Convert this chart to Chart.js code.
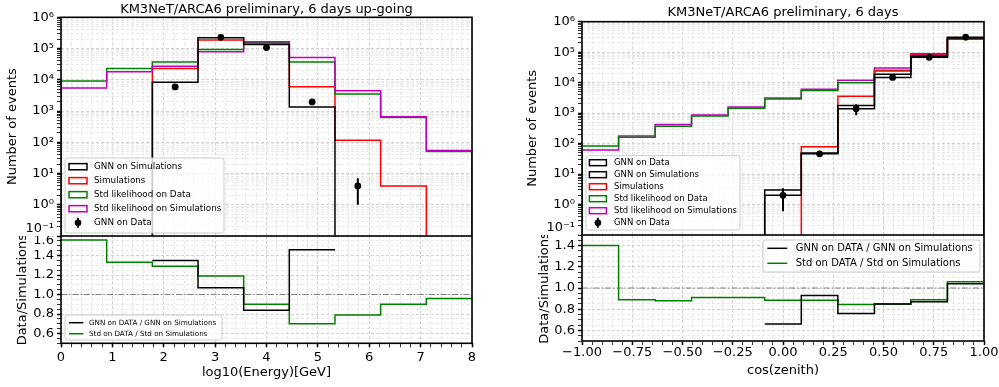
<!DOCTYPE html>
<html>
<head>
<meta charset="utf-8">
<title>KM3NeT/ARCA6 preliminary</title>
<script src="https://cdn.jsdelivr.net/npm/chart.js@4.4.0/dist/chart.umd.min.js"></script>
<style>
    body { margin: 0; background: #fff; }
    #wrap { position: relative; width: 999px; height: 387px; overflow: hidden; background: #fff; }
    canvas { position: absolute; }
</style>
</head>
<body>
<div id="wrap">
    <canvas id="energyTop" width="490" height="236" style="left:0;top:0;width:490px;height:236px"></canvas>
    <canvas id="energyRatio" width="490" height="151" style="left:0;top:236px;width:490px;height:151px"></canvas>
    <canvas id="zenithTop" width="479" height="235" style="left:520px;top:0;width:479px;height:235px"></canvas>
    <canvas id="zenithRatio" width="479" height="152" style="left:520px;top:235px;width:479px;height:152px"></canvas>
</div>
<script>
// ---- data ----
const energyEdges = [0, 0.889, 1.778, 2.667, 3.556, 4.444, 5.333, 6.222, 7.111, 8];
const energyGnnSim = [0, 0, 8300, 222000, 135000, 1350, 0, 0, 0];
const energySim = [0, 0, 23000, 187000, 150000, 6000, 117, 4, 0];
const energyStdData = [9100, 23000, 37000, 94000, 155000, 37000, 3500, 620, 51];
const energyStdSim = [5500, 18000, 27000, 79000, 165000, 52000, 4450, 650, 55];
const energyGnnData = [null, null, 5900, 229000, 108000, 1950, 4, null, null];
const energyGnnDataErr = [0, 0, 80, 480, 330, 45, 3, 0, 0];
const energyRatioGnn = [null, null, 1.35, 1.07, 0.84, 1.46, null, null, null];
const energyRatioStd = [1.56, 1.33, 1.29, 1.19, 0.90, 0.70, 0.79, 0.90, 0.96];

const zenithEdges = [-1, -0.818, -0.636, -0.455, -0.273, -0.091, 0.091, 0.273, 0.455, 0.636, 0.818, 1];
const zenithGnnDataHist = [0, 0, 0, 0, 0, 2.0, 46, 1400, 14800, 68000, 310000];
const zenithGnnSim = [0, 0, 0, 0, 0, 3.0, 49, 1780, 19000, 74000, 290000];
const zenithSim = [0, 0, 0, 0, 0, 0, 78, 3600, 24000, 89000, 263000];
const zenithStdData = [83, 162, 370, 800, 1450, 2880, 5500, 10000, 25700, 76000, 281000];
const zenithStdSim = [62, 178, 420, 870, 1590, 3150, 6100, 12000, 30000, 85000, 265000];
const zenithGnnData = [null, null, null, null, null, 2.0, 46, 1400, 14800, 68000, 310000];
const zenithGnnDataErr = [0, 0, 0, 0, 0, 1.4, 7, 550, 120, 260, 560];
const zenithRatioGnn = [null, null, null, null, null, 0.66, 0.93, 0.76, 0.85, 0.87, 1.04];
const zenithRatioStd = [1.40, 0.89, 0.88, 0.91, 0.91, 0.885, 0.885, 0.845, 0.85, 0.89, 1.06];

const logTickLabels = ['10⁻¹', '10⁰', '10¹', '10²', '10³', '10⁴', '10⁵', '10⁶'];

// ---- helpers ----
const FLOOR = 1e-4; // empty bins drop below the axis (like log(0) in matplotlib)

function stepPoints(edges, vals) {
    const pts = [{x: edges[0], y: FLOOR}];
    vals.forEach((v, i) => {
        const y = v > 0 ? v : FLOOR;
        pts.push({x: edges[i], y: y}, {x: edges[i + 1], y: y});
    });
    pts.push({x: edges[edges.length - 1], y: FLOOR});
    return pts;
}

function ratioSteps(edges, vals) {
    const pts = [];
    vals.forEach((v, i) => {
        if (v == null) { pts.push({x: edges[i], y: null}); return; }
        pts.push({x: edges[i], y: v}, {x: edges[i + 1], y: v});
    });
    return pts;
}

function centers(edges, vals) {
    const pts = [];
    vals.forEach((v, i) => { if (v != null) pts.push({x: (edges[i] + edges[i + 1]) / 2, y: v}); });
    return pts;
}

function errorBars(edges, vals, errs) {
    const pts = [];
    vals.forEach((v, i) => {
        if (v == null) return;
        const c = (edges[i] + edges[i + 1]) / 2;
        pts.push({x: c, y: Math.max(v - errs[i], FLOOR)}, {x: c, y: v + errs[i]}, {x: c, y: null});
    });
    return pts;
}

function logTicks(lo, hi) {
    const t = [];
    for (let e = lo; e <= hi; e++) {
        for (let m = 1; m <= 9; m++) {
            if (e === hi && m > 1) break;
            t.push({value: m * Math.pow(10, e), major: m === 1});
        }
    }
    return t;
}

function linTicks(lo, hi, step, majorStep) {
    const n = Math.round((hi - lo) / step);
    const out = [];
    for (let i = 0; i <= n; i++) {
        const v = +(lo + i * step).toFixed(6);
        const k = v / majorStep;
        out.push({value: v, major: Math.abs(k - Math.round(k)) < 1e-6});
    }
    return out;
}

function powLabel(value) {
    const e = Math.round(Math.log10(value));
    if (Math.abs(value / Math.pow(10, e) - 1) > 1e-6) return '';
    const txt = logTickLabels[e + 1];
    return e === -1 ? [txt, ''] : txt; // lift the lowest label above the ratio panel
}

function ratioLabel(value) {
    const r = Math.round(value * 100);
    if (r % 20 !== 0) return '';
    const txt = value.toFixed(1);
    return r === 160 ? ['', txt] : txt;
}

function energyLabel(v) {
    return Math.abs(v - Math.round(v)) < 1e-6 ? String(Math.round(v)) : '';
}

function zenithLabel(v) {
    const q = Math.round(v * 100);
    if (q % 25 !== 0) return '';
    const s = Math.abs(v).toFixed(2);
    return v < -1e-9 ? '\u2212' + s : s;
}

// fixed axis sizes, no extra room for labels hanging over the ends
function fixSize(s, w, h) {
    if (w != null) s.width = w;
    if (h != null) s.height = h;
    s.paddingTop = 0; s.paddingBottom = 0; s.paddingLeft = 0; s.paddingRight = 0;
}

const grid = (drawTicks) => ({
    color: c => (c.tick && c.tick.major) ? '#d2d2d2' : '#e9e9e9',
    lineWidth: 1,
    drawTicks: drawTicks,
    tickLength: 4,
    tickColor: '#000',
    tickWidth: c => (c.tick && c.tick.major) ? 1.5 : 0.8
});
const border = {display: false, dash: [3, 2]};

// black box round the plot area
const frame = {
    id: 'frame',
    afterDraw(chart) {
        const a = chart.chartArea, ctx = chart.ctx;
        ctx.save();
        ctx.strokeStyle = '#000';
        ctx.lineWidth = 1.6;
        ctx.strokeRect(a.left, a.top, a.right - a.left, a.bottom - a.top);
        ctx.restore();
    }
};

// matplotlib-like legend box, items taken from the datasets
const boxLegend = {
    id: 'boxLegend',
    afterDraw(chart, args, o) {
        const ctx = chart.ctx;
        const items = chart.data.datasets.filter(d => d.legendKind);
        ctx.save();
        ctx.beginPath();
        ctx.roundRect(o.x, o.y, o.w, o.h, 2.5);
        ctx.fillStyle = 'rgba(255,255,255,0.8)';
        ctx.fill();
        ctx.strokeStyle = '#cccccc';
        ctx.lineWidth = 1;
        ctx.stroke();
        ctx.font = o.size + "px 'DejaVu Sans'";
        ctx.textBaseline = 'middle';
        items.forEach((d, i) => {
            const cy = o.y + o.first + i * o.row;
            const hx = o.x + o.hx;
            ctx.strokeStyle = d.borderColor;
            ctx.fillStyle = '#000';
            if (d.legendKind === 'rect') {
                ctx.lineWidth = 1.5;
                ctx.strokeRect(hx, cy - o.size * 0.35, o.hw, o.size * 0.7);
            } else if (d.legendKind === 'line') {
                ctx.lineWidth = 1.5;
                ctx.beginPath(); ctx.moveTo(hx, cy); ctx.lineTo(hx + o.hw, cy); ctx.stroke();
            } else {
                ctx.strokeStyle = '#000';
                ctx.lineWidth = 1.8;
                ctx.beginPath(); ctx.moveTo(hx + o.hw / 2, cy - 5); ctx.lineTo(hx + o.hw / 2, cy + 5); ctx.stroke();
                ctx.beginPath(); ctx.arc(hx + o.hw / 2, cy, 3.3, 0, Math.PI * 2); ctx.fill();
            }
            ctx.fillStyle = '#000';
            ctx.fillText(d.label, o.x + o.tx, cy);
        });
        ctx.restore();
    }
};

Chart.defaults.font.family = "'DejaVu Sans', sans-serif";
Chart.defaults.font.size = 13;
Chart.defaults.color = '#000';
Chart.defaults.animation = false;
Chart.defaults.events = [];
Chart.defaults.layout.autoPadding = false;
Chart.defaults.plugins.legend.display = false;
Chart.defaults.plugins.tooltip.enabled = false;
Chart.defaults.elements.line.borderWidth = 1.5;
Chart.defaults.elements.point.radius = 0;

const BLACK = '#000000', RED = '#ff0000', GREEN = '#008000', MAGENTA = '#bf00bf';

function dotSets(edges, vals, errs) {
    return [
        {label: 'GNN on Data', legendKind: 'dot', data: centers(edges, vals), showLine: false,
         pointRadius: 3.4, pointBackgroundColor: BLACK, pointBorderWidth: 0, order: 0},
        {data: errorBars(edges, vals, errs), borderColor: BLACK, borderWidth: 2, order: 0}
    ];
}

function topOptions(o) {
    return {
        responsive: false,
        layout: {padding: {right: o.padRight}, autoPadding: false},
        plugins: {
            title: {display: true, text: o.title, fullSize: false, color: '#000',
                    font: {size: 13, weight: 'normal'}, padding: o.titlePad},
            boxLegend: o.legend
        },
        scales: {
            x: {type: 'linear', min: o.xmin, max: o.xmax,
                afterBuildTicks: s => { s.ticks = linTicks(o.xmin, o.xmax, o.xminor, o.xmajor); },
                afterFit: s => fixSize(s, null, 0),
                ticks: {display: false, autoSkip: false},
                grid: grid(false), border: border},
            y: {type: 'logarithmic', min: 0.1, max: 1e6,
                afterBuildTicks: s => { s.ticks = logTicks(-1, 6); },
                afterFit: s => fixSize(s, o.yWidth, null),
                ticks: {autoSkip: false, padding: 3, callback: powLabel},
                grid: grid(true), border: border,
                title: {display: true, text: 'Number of events', padding: {top: 4.7, bottom: 0}}}
        }
    };
}

function ratioOptions(o) {
    return {
        responsive: false,
        layout: {padding: {right: o.padRight}, autoPadding: false},
        plugins: {boxLegend: o.legend},
        scales: {
            x: {type: 'linear', min: o.xmin, max: o.xmax,
                afterBuildTicks: s => { s.ticks = linTicks(o.xmin, o.xmax, o.xminor, o.xmajor); },
                afterFit: s => fixSize(s, null, o.xHeight),
                ticks: {autoSkip: false, maxRotation: 0, padding: o.xPad, callback: o.xLabel},
                grid: grid(true), border: border,
                title: {display: true, text: o.xTitle, padding: {top: 0, bottom: o.xTitlePad}}},
            y: {type: 'linear', min: 0.5, max: o.ymax,
                afterBuildTicks: s => { s.ticks = linTicks(0.5, o.ymax, 0.05, 0.2); },
                afterFit: s => fixSize(s, o.yWidth, null),
                ticks: {autoSkip: false, padding: 3, callback: ratioLabel, font: {size: 13, lineHeight: 0.7}},
                grid: grid(true), border: border,
                title: {display: true, text: 'Data/Simulations', padding: {top: o.yTitlePad, bottom: 0}}}
        }
    };
}

function unityLine(xmin, xmax) {
    return {data: [{x: xmin, y: 1}, {x: xmax, y: 1}], borderColor: 'rgba(110,110,110,0.85)',
            borderWidth: 1, borderDash: [6, 2, 1.5, 2], order: 9};
}

// ---- energy, up-going ----
new Chart(document.getElementById('energyTop'), {
    type: 'line',
    data: {
        datasets: [
            {label: 'GNN on Simulations', legendKind: 'rect', data: stepPoints(energyEdges, energyGnnSim), borderColor: BLACK, order: 1},
            {label: 'Simulations', legendKind: 'rect', data: stepPoints(energyEdges, energySim), borderColor: RED, order: 4},
            {label: 'Std likelihood on Data', legendKind: 'rect', data: stepPoints(energyEdges, energyStdData), borderColor: GREEN, order: 3},
            {label: 'Std likelihood on Simulations', legendKind: 'rect', data: stepPoints(energyEdges, energyStdSim), borderColor: MAGENTA, order: 2},
            ...dotSets(energyEdges, energyGnnData, energyGnnDataErr)
        ]
    },
    options: topOptions({
        title: 'KM3NeT/ARCA6 preliminary, 6 days up-going', titlePad: {top: 1.5, bottom: 0.2},
        padRight: 18, yWidth: 61, xmin: 0, xmax: 8, xminor: 0.2, xmajor: 1,
        legend: {x: 65, y: 158, w: 159, h: 75, first: 8.7, row: 14, hx: 4, hw: 18, tx: 29, size: 8.8}
    }),
    plugins: [frame, boxLegend]
});

new Chart(document.getElementById('energyRatio'), {
    type: 'line',
    data: {
        datasets: [
            {label: 'GNN on DATA / GNN on Simulations', legendKind: 'line', data: ratioSteps(energyEdges, energyRatioGnn), borderColor: BLACK, order: 1},
            {label: 'Std on DATA / Std on Simulations', legendKind: 'line', data: ratioSteps(energyEdges, energyRatioStd), borderColor: GREEN, order: 2},
            unityLine(0, 8)
        ]
    },
    options: ratioOptions({
        padRight: 18, yWidth: 61, ymax: 1.6, yTitlePad: 14.7,
        xmin: 0, xmax: 8, xminor: 0.2, xmajor: 1, xHeight: 43.7, xPad: 2.5, xLabel: energyLabel,
        xTitle: 'log10(Energy)[GeV]', xTitlePad: 6.2,
        legend: {x: 65, y: 79, w: 157, h: 25, first: 7.7, row: 11, hx: 4, hw: 14.4, tx: 24, size: 7.2}
    }),
    plugins: [frame, boxLegend]
});

// ---- cos(zenith) ----
new Chart(document.getElementById('zenithTop'), {
    type: 'line',
    data: {
        datasets: [
            {label: 'GNN on Data', legendKind: 'rect', data: stepPoints(zenithEdges, zenithGnnDataHist), borderColor: BLACK, order: 1},
            {label: 'GNN on Simulations', legendKind: 'rect', data: stepPoints(zenithEdges, zenithGnnSim), borderColor: BLACK, order: 1},
            {label: 'Simulations', legendKind: 'rect', data: stepPoints(zenithEdges, zenithSim), borderColor: RED, order: 2},
            {label: 'Std likelihood on Data', legendKind: 'rect', data: stepPoints(zenithEdges, zenithStdData), borderColor: GREEN, order: 3},
            {label: 'Std likelihood on Simulations', legendKind: 'rect', data: stepPoints(zenithEdges, zenithStdSim), borderColor: MAGENTA, order: 4},
            ...dotSets(zenithEdges, zenithGnnData, zenithGnnDataErr)
        ]
    },
    options: topOptions({
        title: 'KM3NeT/ARCA6 preliminary, 6 days', titlePad: {top: 5, bottom: 1.1},
        padRight: 15, yWidth: 62, xmin: -1, xmax: 1, xminor: 0.05, xmajor: 0.25,
        legend: {x: 66, y: 155.7, w: 154, h: 74.3, first: 7, row: 12, hx: 3.4, hw: 17, tx: 28, size: 8.5}
    }),
    plugins: [frame, boxLegend]
});

new Chart(document.getElementById('zenithRatio'), {
    type: 'line',
    data: {
        datasets: [
            {label: 'GNN on DATA / GNN on Simulations', legendKind: 'line', data: ratioSteps(zenithEdges, zenithRatioGnn), borderColor: BLACK, order: 1},
            {label: 'Std on DATA / Std on Simulations', legendKind: 'line', data: ratioSteps(zenithEdges, zenithRatioStd), borderColor: GREEN, order: 2},
            unityLine(-1, 1)
        ]
    },
    options: ratioOptions({
        padRight: 15, yWidth: 62, ymax: 1.5, yTitlePad: 17.2,
        xmin: -1, xmax: 1, xminor: 0.05, xmajor: 0.25, xHeight: 46, xPad: 0, xLabel: zenithLabel,
        xTitle: 'cos(zenith)', xTitlePad: 8.5,
        legend: {x: 243, y: 5, w: 217, h: 32, first: 8.3, row: 15, hx: 4.3, hw: 20, tx: 32.7, size: 10}
    }),
    plugins: [frame, boxLegend]
});
</script>
</body>
</html>
